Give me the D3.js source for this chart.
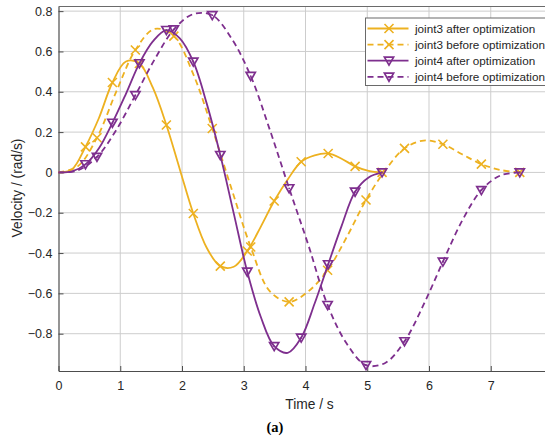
<!DOCTYPE html>
<html>
<head>
<meta charset="utf-8">
<script src="https://cdn.jsdelivr.net/npm/d3@7"></script>
<style>
  body { margin: 0; background: #fff; }
  text { font-family: "Liberation Sans", Arial, sans-serif; fill: #262626; }
</style>
</head>
<body>
<script>
// time samples (s)
var tAfter = [0, 0.218, 0.437, 0.655, 0.873, 1.092, 1.310, 1.528, 1.747, 1.965, 2.183, 2.402,
    2.620, 2.838, 3.057, 3.275, 3.493, 3.712, 3.930, 4.148, 4.367, 4.585, 4.803, 5.022, 5.240];
var tBefore = [0, 0.311, 0.623, 0.934, 1.245, 1.556, 1.868, 2.179, 2.490, 2.801, 3.113, 3.424,
    3.735, 4.046, 4.358, 4.669, 4.980, 5.291, 5.603, 5.914, 6.225, 6.536, 6.848, 7.159, 7.470];

// velocity (rad/s)
var joint3After = [0, 0.015, 0.127, 0.27, 0.446, 0.55, 0.54, 0.42, 0.235, 0.015, -0.204, -0.375,
    -0.465, -0.468, -0.39, -0.27, -0.142, -0.035, 0.053, 0.085, 0.094, 0.068, 0.03, 0.008, 0];
var joint3Before = [0, 0.03, 0.172, 0.40, 0.607, 0.712, 0.676, 0.49, 0.218, -0.08, -0.37, -0.59,
    -0.642, -0.59, -0.485, -0.32, -0.137, 0.01, 0.119, 0.158, 0.14, 0.09, 0.041, 0.012, 0];
var joint4After = [0, 0.005, 0.04, 0.12, 0.246, 0.39, 0.541, 0.65, 0.706, 0.665, 0.549, 0.34,
    0.086, -0.203, -0.493, -0.716, -0.862, -0.895, -0.82, -0.65, -0.456, -0.265, -0.096, -0.025, 0];
var joint4Before = [0, 0.01, 0.077, 0.21, 0.383, 0.56, 0.709, 0.785, 0.78, 0.665, 0.478, 0.21,
    -0.079, -0.36, -0.658, -0.85, -0.956, -0.945, -0.838, -0.655, -0.443, -0.24, -0.088, -0.015, 0];

var xTicks = [0, 1, 2, 3, 4, 5, 6, 7, 8];
var yTicks = [-0.8, -0.6, -0.4, -0.2, 0, 0.2, 0.4, 0.6, 0.8];

var series = [
    {name: "joint3 after optimization", t: tAfter, v: joint3After, color: "#EDB120", dash: null, marker: "x"},
    {name: "joint3 before optimization", t: tBefore, v: joint3Before, color: "#EDB120", dash: "6,4", marker: "x"},
    {name: "joint4 after optimization", t: tAfter, v: joint4After, color: "#7E2F8E", dash: null, marker: "v"},
    {name: "joint4 before optimization", t: tBefore, v: joint4Before, color: "#7E2F8E", dash: "6,4", marker: "v"}
];

var W = 550, H = 441;
var plotLeft = 58.5, plotTop = 6.5, plotBottom = 371;

var x = d3.scaleLinear().domain([0, 8]).range([plotLeft, 552.5]);
var y = d3.scaleLinear().domain([-0.985, 0.823]).range([plotBottom, plotTop]);

var svg = d3.select("body").append("svg")
    .attr("width", W)
    .attr("height", H);

svg.append("clipPath").attr("id", "crop")
    .append("rect").attr("x", 0).attr("y", 0).attr("width", 545).attr("height", H);

var g = svg.append("g").attr("clip-path", "url(#crop)");

// grid
g.append("g").selectAll("line").data(xTicks.slice(1)).enter().append("line")
    .attr("x1", function (d) { return x(d); }).attr("x2", function (d) { return x(d); })
    .attr("y1", plotTop).attr("y2", plotBottom)
    .attr("stroke", "#cdcdcd").attr("stroke-width", 1);
g.append("g").selectAll("line").data(yTicks).enter().append("line")
    .attr("x1", plotLeft).attr("x2", x(8))
    .attr("y1", function (d) { return y(d); }).attr("y2", function (d) { return y(d); })
    .attr("stroke", "#cdcdcd").attr("stroke-width", 1);

// axes
var xAxis = d3.axisBottom(x).tickValues(xTicks.slice(0, 8)).tickSizeInner(-5).tickSizeOuter(0).tickPadding(10);
var yAxis = d3.axisLeft(y).tickValues(yTicks).tickSizeInner(-5).tickSizeOuter(0).tickPadding(6)
    .tickFormat(function (d) { return d === 0 ? "0" : d3.format(".1f")(d).replace("-", "\u2212"); });

var gx = g.append("g").attr("transform", "translate(0," + plotBottom + ")").call(xAxis);
var gy = g.append("g").attr("transform", "translate(" + plotLeft + ",0)").call(yAxis);
[gx, gy].forEach(function (a) {
    a.select(".domain").attr("stroke", "#4d4d4d").attr("stroke-width", 1.2);
    a.selectAll(".tick line").attr("stroke", "#4d4d4d");
    a.selectAll(".tick text").attr("font-size", 12.5).attr("fill", "#262626")
        .style("font-family", "'Liberation Sans', Arial, sans-serif");
});

// top box line
g.append("line").attr("x1", plotLeft).attr("x2", x(8)).attr("y1", plotTop).attr("y2", plotTop)
    .attr("stroke", "#6a6a6a").attr("stroke-width", 1);

// curves
var line = d3.line()
    .x(function (d) { return x(d[0]); })
    .y(function (d) { return y(d[1]); })
    .curve(d3.curveCatmullRom.alpha(0.5));

function drawMarker(sel, type, color) {
    if (type === "x") {
        sel.append("path").attr("d", "M-4.5,-4.5L4.5,4.5M-4.5,4.5L4.5,-4.5")
            .attr("stroke", color).attr("stroke-width", 1.6).attr("fill", "none");
    } else {
        sel.append("path").attr("d", "M-4.6,-3.6L4.6,-3.6L0,4.4Z")
            .attr("stroke", color).attr("stroke-width", 1.7).attr("fill", "none")
            .attr("stroke-linejoin", "miter");
        sel.append("circle").attr("r", 0.9).attr("fill", color);
    }
}

series.forEach(function (s) {
    var pts = s.t.map(function (t, i) { return [t, s.v[i]]; });
    g.append("path").datum(pts)
        .attr("d", line)
        .attr("fill", "none")
        .attr("stroke", s.color)
        .attr("stroke-width", 1.8)
        .attr("stroke-dasharray", s.dash);
    var marks = pts.filter(function (p, i) { return i > 0 && i % 2 === 0; });
    g.append("g").selectAll("g").data(marks).enter().append("g")
        .attr("transform", function (d) { return "translate(" + x(d[0]) + "," + y(d[1]) + ")"; })
        .each(function () { drawMarker(d3.select(this), s.marker, s.color); });
});

// legend
var lg = g.append("g").attr("transform", "translate(365.5,18)");
lg.append("rect").attr("width", 200).attr("height", 67.5)
    .attr("fill", "#fff").attr("stroke", "#6a6a6a").attr("stroke-width", 1);
series.forEach(function (s, i) {
    var row = lg.append("g").attr("transform", "translate(0," + (10.5 + i * 16.1) + ")");
    row.append("line").attr("x1", 2).attr("x2", 43).attr("y1", 0).attr("y2", 0)
        .attr("stroke", s.color).attr("stroke-width", 1.8).attr("stroke-dasharray", s.dash);
    drawMarker(row.append("g").attr("transform", "translate(23.5,0)"), s.marker, s.color);
    row.append("text").attr("x", 49.5).attr("y", 0).attr("dy", "0.35em")
        .attr("font-size", 11.7).text(s.name);
});

// labels
svg.append("text").attr("x", 309.5).attr("y", 409)
    .attr("text-anchor", "middle").attr("font-size", 13.8).text("Time / s");
svg.append("text").attr("transform", "translate(22,188) rotate(-90)")
    .attr("text-anchor", "middle").attr("font-size", 13.8).text("Velocity / (rad/s)");
svg.append("text").attr("x", 275).attr("y", 432)
    .attr("text-anchor", "middle").attr("font-size", 14.5).attr("font-weight", "bold")
    .style("font-family", "'Liberation Serif', 'Times New Roman', serif")
    .style("fill", "#000").text("(a)");
</script>
</body>
</html>
